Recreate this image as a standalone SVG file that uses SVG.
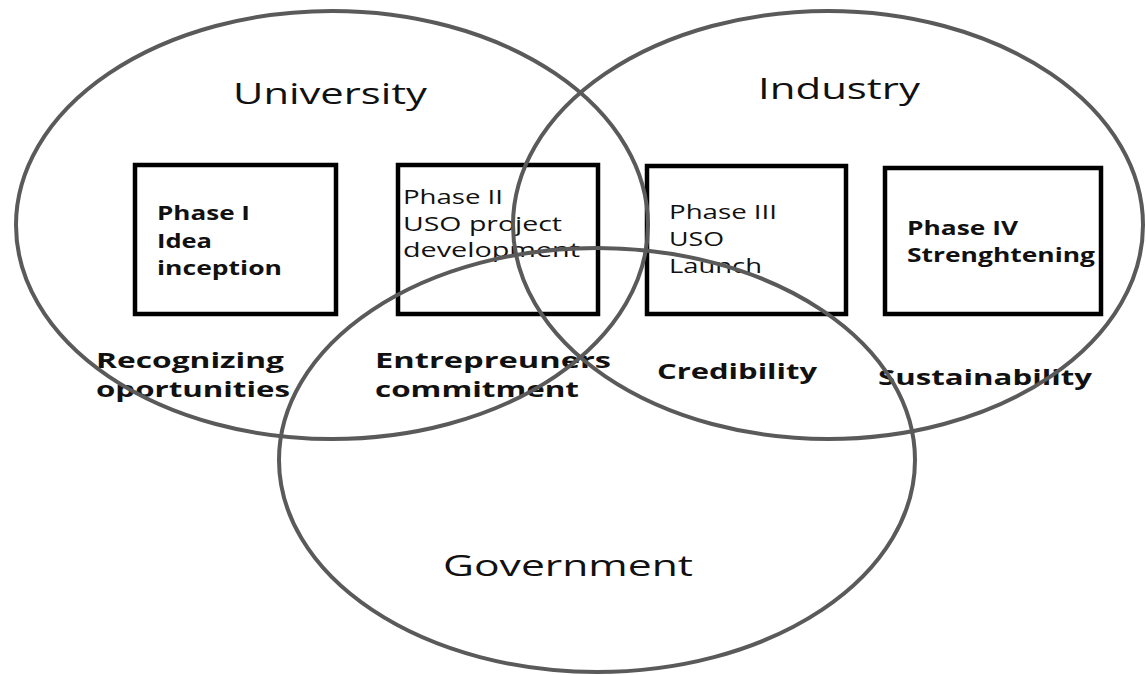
<svg xmlns="http://www.w3.org/2000/svg" width="1146" height="675" viewBox="0 0 1146 675">
<style>
.bg{fill:#ffffff}
.ell{fill:none;stroke:#5a5a5a;stroke-width:4}
.box{fill:#ffffff;stroke:#000000;stroke-width:4.5}
text{font-family:"Open Sans","Liberation Sans",sans-serif;fill:#111111}
.title{font-size:30px}
.ph{font-size:20px}
.b{font-weight:bold}
.lab{font-size:22px;font-weight:bold}
</style>
<rect class="bg" x="0" y="0" width="1146" height="675"/>
<g id="phase1">
<rect class="box" x="135" y="165" width="201" height="149"/>
<text class="ph b" x="157" y="220" textLength="93" lengthAdjust="spacingAndGlyphs">Phase I</text>
<text class="ph b" x="157" y="248" textLength="55" lengthAdjust="spacingAndGlyphs">Idea</text>
<text class="ph b" x="157" y="275" textLength="125" lengthAdjust="spacingAndGlyphs">inception</text>
</g>
<g id="phase2">
<rect class="box" x="398" y="165" width="200" height="149"/>
<text class="ph" x="403" y="204" textLength="100" lengthAdjust="spacingAndGlyphs">Phase II</text>
<text class="ph" x="403" y="231" textLength="159" lengthAdjust="spacingAndGlyphs">USO project</text>
<text class="ph" x="403" y="257" textLength="177" lengthAdjust="spacingAndGlyphs">development</text>
</g>
<g id="phase3">
<rect class="box" x="647" y="166" width="199" height="148"/>
<text class="ph" x="669" y="219" textLength="108" lengthAdjust="spacingAndGlyphs">Phase III</text>
<text class="ph" x="669" y="246" textLength="55" lengthAdjust="spacingAndGlyphs">USO</text>
<text class="ph" x="669" y="273" textLength="93" lengthAdjust="spacingAndGlyphs">Launch</text>
</g>
<g id="phase4">
<rect class="box" x="885" y="168" width="216" height="146"/>
<text class="ph b" x="907" y="235" textLength="111" lengthAdjust="spacingAndGlyphs">Phase IV</text>
<text class="ph b" x="907" y="262" textLength="188" lengthAdjust="spacingAndGlyphs">Strenghtening</text>
</g>
<g id="labels">
<text class="lab" x="96" y="368" textLength="188" lengthAdjust="spacingAndGlyphs">Recognizing</text>
<text class="lab" x="96" y="397" textLength="194" lengthAdjust="spacingAndGlyphs">oportunities</text>
<text class="lab" x="375" y="368" textLength="236" lengthAdjust="spacingAndGlyphs">Entrepreuners</text>
<text class="lab" x="375" y="397" textLength="204" lengthAdjust="spacingAndGlyphs">commitment</text>
<text class="lab" x="657" y="379" textLength="160" lengthAdjust="spacingAndGlyphs">Credibility</text>
<text class="lab" x="878" y="385" textLength="214" lengthAdjust="spacingAndGlyphs">Sustainability</text>
</g>
<g id="university">
<ellipse class="ell" cx="332" cy="225" rx="316" ry="214"/>
<text class="title" x="233" y="104" textLength="194" lengthAdjust="spacingAndGlyphs">University</text>
</g>
<g id="industry">
<ellipse class="ell" cx="828" cy="225" rx="315" ry="214"/>
<text class="title" x="758" y="99" textLength="162" lengthAdjust="spacingAndGlyphs">Industry</text>
</g>
<g id="government">
<ellipse class="ell" cx="597" cy="460" rx="318" ry="212"/>
<text class="title" x="443" y="576" textLength="250" lengthAdjust="spacingAndGlyphs">Government</text>
</g>
<g id="connectors"/>
</svg>
